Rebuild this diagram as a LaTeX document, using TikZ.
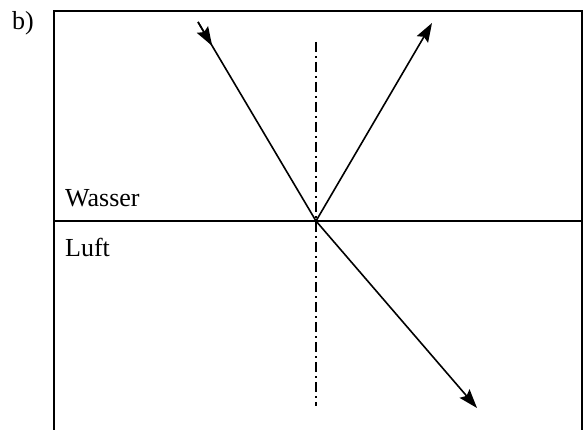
\documentclass[tikz,border=0pt]{standalone}
\usepackage{fontspec}
\setmainfont{Liberation Serif}
\usetikzlibrary{arrows.meta,calc}
\tikzset{
  ray/.style={line width=1.6pt},
  tip/.style={-{Stealth[length=19pt,width=13pt,inset=3pt]}},
  axis/.style={line width=1.3pt, dash pattern=on 10pt off 4pt on 2pt off 4pt},
  lbl/.style={font=\fontsize{26}{30}\selectfont, inner sep=0pt, anchor=base west}
}
\begin{document}
\begin{tikzpicture}[x=1pt,y=-1pt]
\useasboundingbox (0,0) rectangle (583,430);
% frame
\draw[line width=1.8pt] (54,440) -- (54,11) -- (582,11) -- (582,440);
% interface
\coordinate (L) at (54,221);
\coordinate (R) at (582,221);
\coordinate (O) at (316,221);
\draw[line width=1.6pt] (L) -- (R);
% normal
\coordinate (Nt) at (316,42);
\coordinate (Nb) at (316,406);
\draw[axis] (Nt) -- (Nb);
% rays
\coordinate (S) at (198,22);
\coordinate (Rf) at (432,23);
\coordinate (T) at (477,408);
\draw[ray] (S) -- (O);
\draw[ray,tip] (S) -- ($(S)!0.12!(O)$);
\draw[ray,tip] (O) -- (Rf);
\draw[ray,tip] (O) -- (T);
% labels
\node[lbl] (b) at (12,30) {b)};
\node[lbl] (w) at (65,207) {Wasser};
\node[lbl] (l) at (65,257) {Luft};
\end{tikzpicture}
\end{document}
